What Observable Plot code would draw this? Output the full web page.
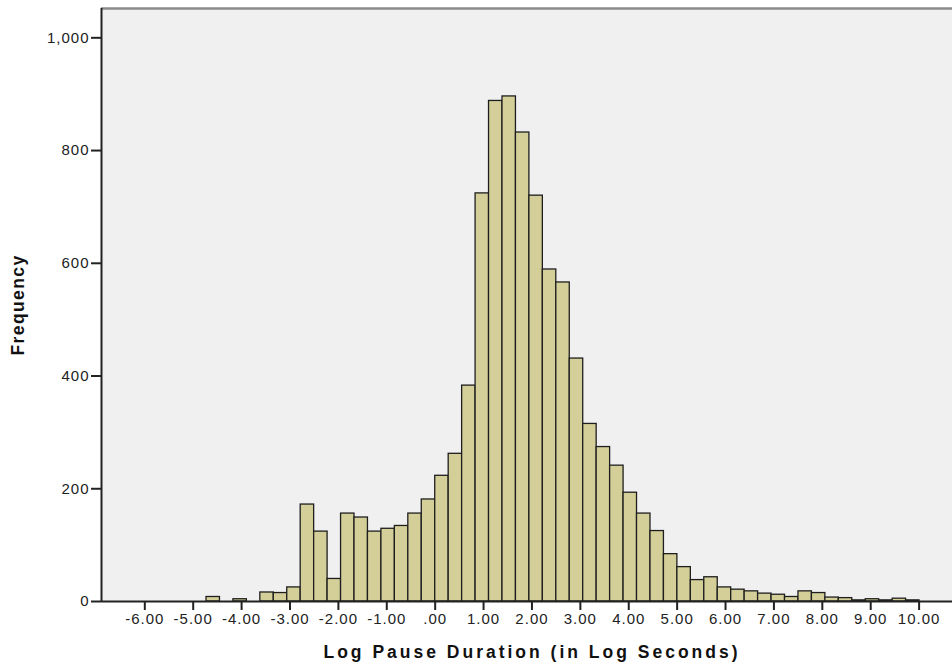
<!DOCTYPE html>
<html>
<head>
<meta charset="utf-8">
<script src="https://cdn.jsdelivr.net/npm/d3@7"></script>
<script src="https://cdn.jsdelivr.net/npm/@observablehq/plot@0.6"></script>
<style>
  body { margin: 0; background: #fff; }
  #chart svg { display: block; }
</style>
</head>
<body>
<div id="chart"></div>
<script>
// Histogram of log pause durations: equal-width bins starting at binStart
const binStart = -4.725;
const binWidth = 0.278;
const frequencies = [
  8, 0, 4, 0, 16, 15, 25, 172, 124, 40,
  156, 149, 124, 129, 134, 156, 181, 223, 262, 383,
  724, 888, 896, 832, 720, 589, 566, 431, 315, 274,
  241, 193, 156, 125, 84, 61, 38, 43, 25, 21,
  18, 14, 12, 8, 18, 15, 7, 6, 2, 4,
  2, 5, 2
];
const xTicks = [-6, -5, -4, -3, -2, -1, 0, 1, 2, 3, 4, 5, 6, 7, 8, 9, 10];
const yTicks = [0, 200, 400, 600, 800, 1000];
const xTitle = "Log Pause Duration (in Log Seconds)";
const yTitle = "Frequency";

const bins = frequencies.map((count, i) => ({
  x1: binStart + i * binWidth,
  x2: binStart + (i + 1) * binWidth,
  count
}));

const xDomain = [-6.895, 10.69];
const yDomain = [0, 1052];
const fmtX = d => d === 0 ? ".00" : d.toFixed(2);
const fmtY = d3.format(",");

const chart = Plot.plot({
  width: 952,
  height: 664,
  marginLeft: 101,
  marginRight: 0,
  marginTop: 8,
  marginBottom: 63,
  x: { domain: xDomain },
  y: { domain: yDomain },
  style: {
    fontFamily: '"Liberation Sans", Arial, sans-serif',
    fontSize: "15px",
    color: "#222",
    background: "#fff",
    overflow: "visible"
  },
  marks: [
    Plot.frame({ fill: "#f0f0f0", stroke: null }),
    Plot.ruleY([yDomain[1]], { stroke: "#8a8a8a", strokeWidth: 2.5 }),
    Plot.rectY(bins.filter(d => d.count > 0), {
      x1: "x1", x2: "x2", y: "count",
      fill: "#d4cf99", stroke: "#1e1e1e", strokeWidth: 1.3
    }),
    Plot.ruleX([xDomain[0]], { stroke: "#222", strokeWidth: 2 }),
    Plot.ruleY([0], { stroke: "#222", strokeWidth: 2 }),
    Plot.axisX(xTicks, {
      tickFormat: fmtX, tickSize: 9, tickPadding: 3,
      strokeWidth: 2, label: null, fill: "#222"
    }),
    Plot.axisY(yTicks, {
      tickFormat: fmtY, tickSize: 10, tickPadding: 2,
      strokeWidth: 2, label: null, fill: "#222"
    }),
    Plot.text([xTitle], {
      frameAnchor: "bottom", lineAnchor: "middle", dy: 51, dx: 5,
      fontWeight: "bold", fontSize: 17.5, fill: "#111"
    }),
    Plot.text([yTitle], {
      frameAnchor: "left", textAnchor: "middle", dx: -83, rotate: -90,
      fontWeight: "bold", fontSize: 17.5, fill: "#111"
    })
  ]
});

// wider letter spacing for labels and titles
d3.select(chart).selectAll("text").style("letter-spacing", "1px");
d3.select(chart).selectAll("text")
  .filter(function () { return this.textContent === xTitle; })
  .style("letter-spacing", "3px");
d3.select(chart).selectAll("text")
  .filter(function () { return this.textContent === yTitle; })
  .style("letter-spacing", "1.4px");

document.getElementById("chart").appendChild(chart);
</script>
</body>
</html>
